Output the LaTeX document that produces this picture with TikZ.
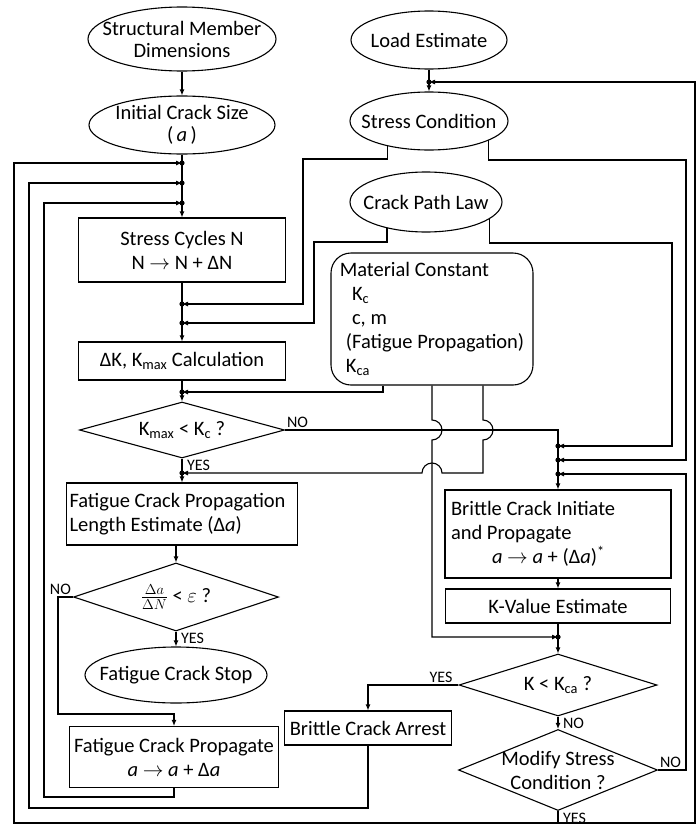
\documentclass[tikz,border=0pt]{standalone}
\usepackage{amsmath}
\usepackage{fontspec}
\setmainfont{Carlito}
\usetikzlibrary{arrows.meta,shapes.geometric}
\tikzset{
  term/.style={ellipse,draw,line width=1.1pt,inner xsep=-20pt,inner ysep=-8pt,align=center},
  proc/.style={rectangle,draw,line width=1.1pt,inner sep=2pt,align=center},
  store/.style={rectangle,draw,line width=1.1pt,rounded corners=20pt,inner sep=4pt,align=left},
  choice/.style={diamond,draw,line width=1.1pt,aspect=2.5,inner xsep=0pt,inner ysep=-10pt,align=center},
  flow/.style={draw,line width=1.1pt,-{Latex[length=6pt,width=5pt]}},
  tag/.style={font=\fontsize{16}{16}\selectfont,inner sep=1.5pt},
}
\begin{document}
\begin{tikzpicture}[x=1pt,y=-1pt,font=\fontsize{20.5}{24}\selectfont]
  \useasboundingbox (0,0) rectangle (698,827);
  % left column
  \node[term,minimum width=188pt,minimum height=64pt,font=\fontsize{20.5}{22}\selectfont] (sdim) at (182,39) {Structural Member\\Dimensions};
  \node[term,minimum width=186pt,minimum height=58pt,font=\fontsize{20.5}{22}\selectfont] (icrack) at (182,125) {Initial Crack Size\\(\,\textit{a}\,)};
  \node[proc,minimum width=207pt,minimum height=64pt] (cycles) at (182,250) {Stress Cycles N\\N $\rightarrow$ N + ΔN};
  \node[proc,minimum width=207pt,minimum height=38pt] (dk) at (182,361) {ΔK, K\textsubscript{max} Calculation};
  \node[choice,minimum width=205pt,minimum height=56pt] (kc) at (182,430) {K\textsubscript{max} < K\textsubscript{c} ?};
  \node[proc,minimum width=231pt,minimum height=62pt,align=flush left,text width=225pt] (fcpl) at (182,514) {Fatigue Crack Propagation\\Length Estimate (Δ\textit{a})};
  \node[choice,minimum width=205pt,minimum height=68pt] (eps) at (176,597) {$\frac{\Delta a}{\Delta N}$ < $\varepsilon$ ?};
  \node[term,minimum width=182pt,minimum height=56pt] (fstop) at (176,675) {Fatigue Crack Stop};
  \node[proc,minimum width=209pt,minimum height=61pt] (fprop) at (174,757) {Fatigue Crack Propagate\\\textit{a} $\rightarrow$ \textit{a} + Δ\textit{a}};
  % right column
  \node[term,minimum width=156pt,minimum height=58pt] (load) at (429,40) {Load Estimate};
  \node[term,minimum width=158pt,minimum height=58pt] (scond) at (429,121) {Stress Condition};
  \node[term,minimum width=152pt,minimum height=60pt] (cpath) at (426,202) {Crack Path Law};
  \node[store,minimum width=202pt,minimum height=132pt] (matc) at (432,319) {Material Constant\\\hspace*{.6em}K\textsubscript{c}\\\hspace*{.6em}c, m\\\hspace*{.3em}(Fatigue Propagation)\\\hspace*{.3em}K\textsubscript{ca}};
  \node[proc,minimum width=226pt,minimum height=88pt,align=flush left,text width=214pt] (bci) at (558,534) {Brittle Crack Initiate\\and Propagate\\\hspace*{2em}\textit{a} $\rightarrow$ \textit{a} + (Δ\textit{a})\textsuperscript{*}};
  \node[proc,minimum width=225pt,minimum height=34pt] (kval) at (558,606) {K-Value Estimate};
  \node[choice,minimum width=198pt,minimum height=62pt] (kca) at (558,685) {K < K\textsubscript{ca} ?};
  \node[proc,minimum width=167pt,minimum height=34pt] (arrest) at (368,728) {Brittle Crack Arrest};
  \node[choice,minimum width=199pt,minimum height=81pt] (modify) at (558,770) {Modify Stress\\Condition ?};
  % junctions
  \coordinate (j1) at (182,163);
  \coordinate (j2) at (182,183);
  \coordinate (j3) at (182,203);
  \coordinate (jA) at (182,304);
  \coordinate (jB) at (182,323);
  \coordinate (jF) at (182,392);
  \coordinate (jH) at (182,473);
  \coordinate (jC) at (558,446);
  \coordinate (jD) at (558,460);
  \coordinate (jE) at (558,474);
  \coordinate (jG) at (558,637);
  \coordinate (jL) at (429,82);
  % main flow
  \draw[flow] (sdim) -- (icrack);
  \draw[flow] (icrack) -- (cycles);
  \draw[flow] (cycles) -- (dk);
  \draw[flow] (dk) -- (kc);
  \draw[flow] (kc) -- node[tag,pos=0,anchor=north west,xshift=3pt] {YES} (fcpl);
  \draw[flow] (eps.north |- fcpl.south) -- (eps);
  \draw[flow] (eps) -- node[tag,pos=0,anchor=north west,xshift=3pt] {YES} (fstop);
  \draw[flow] (eps.west) node[tag,anchor=south east] {NO} -| (58,714) -| (fprop.north);
  \draw[flow] (kc.east) node[tag,anchor=south west] {NO} -| (bci.north);
  \draw[flow] (bci) -- (kval);
  \draw[flow] (kval) -- (kca);
  \draw[flow] (kca.west) node[tag,anchor=south east,xshift=-4pt] {YES} -| (arrest.north);
  \draw[flow] (kca) -- node[tag,pos=0,anchor=north west,xshift=3pt] {NO} (modify);
  \draw[flow] (modify.east) node[tag,anchor=south west] {NO} -| (686,474) -- (jE);
  \draw[flow] (load) -- (scond);
  % loops back
  \draw[flow] (fprop.south) |- (44,797) |- (j3);
  \draw[flow] (arrest.south) |- (29,808) |- (j2);
  \draw[flow] (modify.south) node[tag,anchor=north west,xshift=3pt] {YES} |- (14,823) |- (j1);
  \draw[flow] (modify.south) |- (695,823) |- (jL);
  % feeds from the right
  \draw[flow] (scond.-149) |- (303,159) |- (jA);
  \draw[flow] (cpath.-146) |- (314,242) |- (jB);
  \draw[flow] (scond.-18) |- (686,160) |- (jD);
  \draw[flow] (cpath.-15) |- (672,243) |- (jC);
  \draw[flow] ([xshift=-49pt]matc.south) |- (jF);
  \draw[flow] (matc.south) -- (432,420) arc[start angle=90,end angle=-90,radius=10pt] |- (jG);
  \draw[flow] ([xshift=51pt]matc.south) -- (483,420) arc[start angle=90,end angle=-90,radius=10pt]
    -- (483,473) -- (442,473) arc[start angle=0,end angle=180,radius=10pt] -- (jH);
  \foreach \j in {j1,j2,j3,jA,jB,jF,jH,jC,jD,jE,jG,jL}
    \fill (\j) circle (2.6pt);
\end{tikzpicture}
\end{document}
